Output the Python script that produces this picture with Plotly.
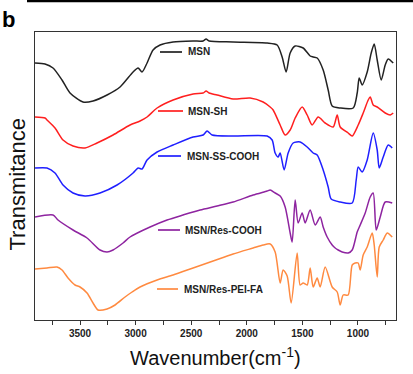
import plotly.graph_objects as go

# ---- data (wavenumber in cm^-1, transmittance in arbitrary offset units) ----
msn_wn = [3905, 3815, 3743, 3662, 3590, 3473, 3383, 3257, 3140, 3023, 2978, 2942, 2897, 2843, 2780,
          2663, 2483, 2393, 2366, 2339, 2123, 1817, 1727, 1682, 1646, 1610, 1565, 1493, 1430, 1403,
          1367, 1313, 1268, 1232, 1160, 1043, 1007, 989, 962, 917, 881, 854, 827, 791, 755, 728, 683]
msn_t = [257, 256, 252, 240, 227, 218, 219, 225, 233, 248, 252, 248, 257, 270, 275,
         278, 279, 279, 281, 279, 278, 277, 275, 263, 248, 267, 274, 272, 264, 263,
         262, 250, 230, 214, 212, 212, 227, 242, 235, 248, 267, 276, 260, 240, 255, 261, 257]

sh_wn = [3905, 3815, 3797, 3725, 3653, 3563, 3455, 3347, 3203, 3050, 2960, 2897, 2807, 2663, 2483,
         2393, 2366, 2339, 2267, 2123, 1970, 1853, 1790, 1763, 1700, 1655, 1610, 1565, 1502, 1457,
         1412, 1358, 1295, 1223, 1187, 1160, 1088, 1052, 998, 953, 908, 890, 863, 827, 755, 710, 683]
sh_t = [203, 202, 200, 192, 180, 174, 172, 177, 185, 195, 199, 203, 212, 220, 226,
        227, 229, 227, 225, 221, 222, 218, 213, 210, 195, 185, 190, 202, 213, 205,
        195, 203, 197, 193, 205, 193, 187, 184, 195, 207, 220, 223, 215, 213, 207, 205, 207]

ss_wn = [3905, 3797, 3725, 3653, 3563, 3455, 3320, 3167, 3023, 2978, 2942, 2897, 2807, 2663, 2483,
         2393, 2357, 2312, 2123, 1817, 1772, 1745, 1718, 1700, 1664, 1628, 1583, 1520, 1457, 1403,
         1367, 1313, 1268, 1241, 1160, 1052, 1016, 998, 962, 917, 863, 827, 809, 773, 728, 692]
ss_t = [152, 152, 147, 135, 127, 124, 127, 135, 147, 152, 151, 160, 168, 175, 183,
        185, 189, 185, 184, 184, 180, 167, 163, 167, 150, 167, 177, 178, 173, 167,
        165, 150, 133, 121, 118, 117, 140, 153, 148, 160, 187, 170, 152, 163, 175, 172]

res_wn = [3905, 3743, 3698, 3563, 3437, 3320, 3257, 3203, 3113, 3050, 2870, 2717, 2573, 2420, 2267,
          2123, 1943, 1817, 1790, 1745, 1700, 1655, 1610, 1592, 1565, 1538, 1502, 1475, 1430, 1385,
          1340, 1313, 1277, 1232, 1205, 1178, 1142, 1088, 1052, 1007, 980, 935, 890, 863, 836, 800, 755, 692]
res_t = [103, 105, 100, 90, 82, 70, 68, 70, 77, 83, 93, 100, 105, 110, 114,
         118, 125, 129, 130, 127, 124, 113, 87, 78, 120, 97, 107, 97, 110, 95,
         103, 93, 83, 75, 72, 70, 68, 67, 70, 88, 95, 107, 123, 127, 90, 103, 118, 117]

pei_wn = [3905, 3797, 3707, 3662, 3608, 3545, 3500, 3437, 3383, 3338, 3257, 3185, 3095, 3032, 2960,
          2807, 2663, 2483, 2303, 2123, 1943, 1853, 1790, 1745, 1700, 1673, 1637, 1601, 1547, 1520,
          1493, 1457, 1430, 1403, 1367, 1340, 1295, 1232, 1187, 1160, 1133, 1088, 1052, 1025, 998,
          980, 953, 917, 872, 854, 827, 809, 773, 737, 692]
pei_t = [51, 52, 53, 50, 42, 35, 33, 27, 17, 10, 11, 15, 23, 28, 33,
         40, 45, 52, 59, 66, 72, 75, 76, 68, 37, 50, 44, 17, 67, 35,
         37, 35, 52, 33, 42, 33, 53, 33, 28, 15, 25, 25, 55, 57, 57,
         50, 65, 73, 87, 75, 43, 73, 80, 87, 83]

names = ["MSN", "MSN-SH", "MSN-SS-COOH", "MSN/Res-COOH", "MSN/Res-PEI-FA"]
colors = ["#222222", "#ff1f1f", "#1f1fff", "#8e24a0", "#ff8a40"]
xs = [msn_wn, sh_wn, ss_wn, res_wn, pei_wn]
ys = [msn_t, sh_t, ss_t, res_t, pei_t]
x_ticks = [3500, 3000, 2500, 2000, 1500, 1000]

W, H = 413, 374
L, R, T, B = 35, 17, 32, 54
pw, ph = W - L - R, H - T - B


def px(x):
    return (x - L) / pw


def py(y):
    return (H - B - y) / ph


fig = go.Figure()
for x, y, n, c in zip(xs, ys, names, colors):
    fig.add_trace(go.Scatter(x=x, y=y, mode="lines", name=n,
                             line=dict(color=c, width=1.5, shape="spline", smoothing=0.7),
                             showlegend=False, hoverinfo="skip"))

# inline labels (line segment + text)
lab_pos = [(160, 182, 186, 52), (158, 183, 186, 111), (158, 181, 185, 156),
           (158, 180, 183, 230), (157, 178, 182, 289)]
for (x0, x1, xt, yy), n, c in zip(lab_pos, names, colors):
    fig.add_shape(type="line", xref="paper", yref="paper", x0=px(x0), x1=px(x1),
                  y0=py(yy), y1=py(yy), line=dict(color=c, width=1.7))
    fig.add_annotation(xref="paper", yref="paper", x=px(xt), y=py(yy), text=n,
                       showarrow=False, xanchor="left", yanchor="middle",
                       font=dict(family="Liberation Sans", size=10, color="#222", weight="bold"))

fig.add_annotation(xref="paper", yref="paper", x=px(16.5), y=py(185), text="Transmitance",
                   textangle=-90, showarrow=False, xanchor="center", yanchor="middle",
                   font=dict(family="Liberation Sans", size=22, color="#111"))
fig.add_annotation(xref="paper", yref="paper", x=px(215), y=py(356),
                   text="Wavenumber(cm<sup>-1</sup>)", showarrow=False,
                   xanchor="center", yanchor="middle",
                   font=dict(family="Liberation Sans", size=20, color="#111"))
fig.add_annotation(xref="paper", yref="paper", x=px(9), y=py(19), text="b",
                   showarrow=False, xanchor="center", yanchor="middle",
                   font=dict(family="Liberation Sans", size=22, color="#000", weight="bold"))
fig.add_shape(type="line", xref="paper", yref="paper", x0=px(27), x1=px(413),
              y0=py(1), y1=py(1), line=dict(color="#000", width=2.5))

fig.update_layout(
    width=W, height=H, margin=dict(l=L, r=R, t=T, b=B),
    paper_bgcolor="white", plot_bgcolor="white", hovermode=False,
    xaxis=dict(range=[3905, 658], autorange=False, tickvals=x_ticks,
               ticks="outside", ticklen=4, tickwidth=1, tickcolor="#333",
               minor=dict(dtick=250, tick0=0, ticks="outside", ticklen=4, tickcolor="#333"),
               showline=True, linecolor="#333", linewidth=1, mirror=True,
               showgrid=False, zeroline=False,
               tickfont=dict(family="Liberation Sans", size=10, color="#222", weight="bold")),
    yaxis=dict(range=[0, 288], autorange=False, showticklabels=False, ticks="",
               showline=True, linecolor="#333", linewidth=1, mirror=True,
               showgrid=False, zeroline=False),
)

fig.write_html("out.html", config={"displayModeBar": False},
               post_script="document.body.style.margin='0';document.body.style.overflow='hidden';")
